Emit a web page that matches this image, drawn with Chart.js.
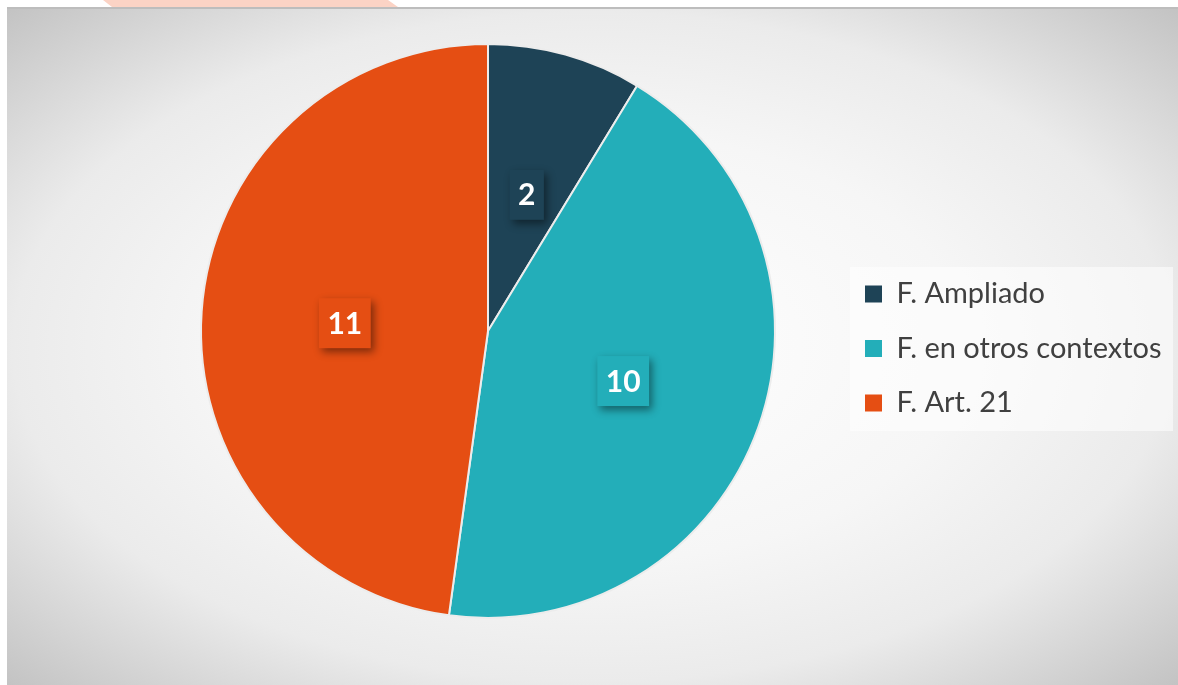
<!DOCTYPE html>
<html lang="es">
<head>
<meta charset="utf-8">
<title>Tipos de F.</title>
<script src="https://cdn.jsdelivr.net/npm/chart.js@4/dist/chart.umd.min.js"></script>
<style>
  html, body { margin: 0; padding: 0; background: #ffffff; width: 1178px; height: 685px; overflow: hidden; }
  #franja { position: absolute; left: 103px; top: 0; width: 295px; height: 7px; background: #fbd3c5;
            clip-path: polygon(0 0, 285px 0, 295px 100%, 9px 100%); }
  #marco { position: absolute; left: 7px; top: 7px; right: 0; bottom: 0; border-top: 2px solid #bdbdbd;
           background: radial-gradient(ellipse farthest-corner at 50% 50%, #ffffff 0%, #f6f6f6 45%, #ebebeb 70%, #c3c3c3 100%); }
  #grafico { position: absolute; left: 0; top: 0; }
</style>
</head>
<body>
<div id="franja"></div>
<div id="marco"></div>
<canvas id="grafico" width="1178" height="685"></canvas>
<script>
  // Datos del gráfico
  var categorias = ['F. Ampliado', 'F. en otros contextos', 'F. Art. 21'];
  var valores = [2, 10, 11];
  var colores = ['#1e4356', '#23aeb9', '#e54e13'];

  // Plugin: coloca el área del gráfico y la leyenda donde están en la imagen
  var colocarPlugin = {
    id: 'colocar',
    afterLayout: function (chart) {
      Object.assign(chart.chartArea, { left: 200, top: 43, right: 776, bottom: 619, width: 576, height: 576 });
      var leyenda = chart.legend;
      leyenda.left = 839.5;
      leyenda.top = 254;
      leyenda.right = 1178;
      leyenda.bottom = 685;
    },
    beforeDraw: function (chart) {
      // Fondo de la leyenda
      var ctx = chart.ctx;
      ctx.save();
      ctx.fillStyle = 'rgba(255,255,255,0.55)';
      ctx.fillRect(850, 267, 323, 164);
      ctx.restore();
    }
  };

  // Plugin: etiquetas con el valor dentro de una caja con sombra
  var etiquetasPlugin = {
    id: 'etiquetas',
    afterDatasetsDraw: function (chart) {
      var ctx = chart.ctx;
      var meta = chart.getDatasetMeta(0);
      ctx.save();
      ctx.font = 'bold 30px Lato';
      ctx.textAlign = 'center';
      ctx.textBaseline = 'middle';
      meta.data.forEach(function (arco, i) {
        var pos = arco.tooltipPosition();
        var texto = String(valores[i]);
        var ancho = ctx.measureText(texto).width + 17;
        var alto = 50;
        ctx.save();
        ctx.shadowColor = 'rgba(0,0,0,0.45)';
        ctx.shadowBlur = 8;
        ctx.shadowOffsetX = 3;
        ctx.shadowOffsetY = 4;
        ctx.fillStyle = colores[i];
        ctx.fillRect(pos.x - ancho / 2, pos.y - alto / 2 + 2, ancho, alto);
        ctx.restore();
        ctx.fillStyle = '#ffffff';
        ctx.fillText(texto, pos.x, pos.y + 3);
      });
      ctx.restore();
    }
  };

  var config = {
    type: 'pie',
    data: {
      labels: categorias,
      datasets: [{
        data: valores,
        backgroundColor: colores,
        borderColor: '#ececec',
        borderWidth: 2
      }]
    },
    options: {
      responsive: false,
      animation: false,
      devicePixelRatio: 1,
      plugins: {
        legend: {
          position: 'right',
          align: 'start',
          labels: {
            boxWidth: 17,
            boxHeight: 17,
            padding: 25.5,
            color: '#404040',
            font: { family: 'Lato', size: 29 },
            // cuadros de la leyenda sin borde
            generateLabels: function (chart) {
              var items = Chart.controllers.pie.overrides.plugins.legend.labels.generateLabels(chart);
              items.forEach(function (item) { item.lineWidth = 0; });
              return items;
            }
          }
        },
        tooltip: { enabled: false }
      }
    },
    plugins: [colocarPlugin, etiquetasPlugin]
  };

  var ctx = document.getElementById('grafico').getContext('2d');
  var grafico = new Chart(ctx, config);
</script>
</body>
</html>
